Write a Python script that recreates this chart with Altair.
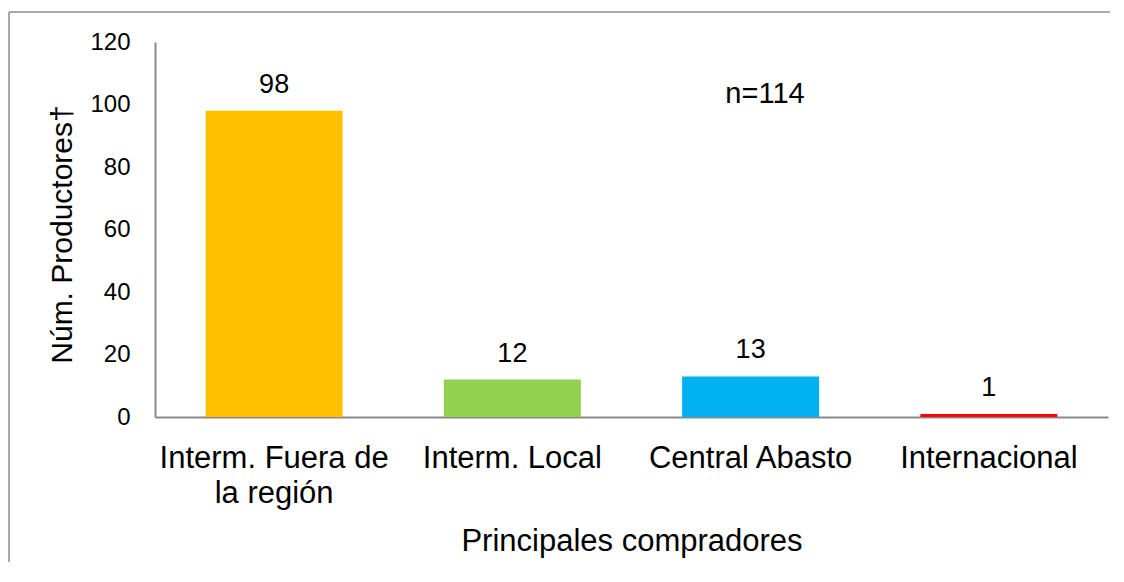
import altair as alt
import pandas as pd

categories = ["Interm. Fuera de la región", "Interm. Local", "Central Abasto", "Internacional"]
values = [98, 12, 13, 1]
colors = ["#FFC000", "#92D050", "#00B0F0", "#FF0000"]
y_ticks = [0, 20, 40, 60, 80, 100, 120]
note = "n=114"

df = pd.DataFrame({"cat": categories, "val": values})

FONT = "Liberation Sans"
W, H = 953, 375

x_enc = alt.X(
    "cat:N",
    sort=None,
    scale=alt.Scale(paddingInner=0.425, paddingOuter=0.2125),
    axis=alt.Axis(
        title="Principales compradores",
        labelAngle=0,
        labelFontSize=31,
        labelFont=FONT,
        labelColor="#000000",
        labelBaseline="alphabetic",
        labelPadding=50,
        labelLineHeight=35,
        labelLimit=0,
        labelExpr="datum.label == 'Interm. Fuera de la región' ? ['Interm. Fuera de', 'la región'] : datum.label",
        ticks=False,
        tickSize=0,
        domainColor="#8a8a8a",
        domainWidth=2,
        titleFontSize=31,
        titleFont=FONT,
        titleFontWeight="normal",
        titleColor="#000000",
        titleX=W / 2,
        titleY=133,
        titleBaseline="alphabetic",
        titleAlign="center",
    ),
)

y_enc = alt.Y(
    "val:Q",
    scale=alt.Scale(domain=[0, 120]),
    axis=alt.Axis(
        title="Núm. Productores†",
        values=y_ticks,
        grid=False,
        ticks=False,
        tickSize=0,
        labelFontSize=24,
        labelFont=FONT,
        labelColor="#000000",
        labelPadding=25,
        domainColor="#8a8a8a",
        domainWidth=2,
        titleFontSize=30,
        titleFont=FONT,
        titleFontWeight="normal",
        titleColor="#000000",
        titleAngle=-90,
        titleX=-84,
        titleY=192,
        titleAlign="center",
        titleBaseline="alphabetic",
    ),
)

bars = alt.Chart(df).mark_bar().encode(
    x=x_enc,
    y=y_enc,
    color=alt.Color("cat:N", sort=None, scale=alt.Scale(domain=categories, range=colors), legend=None),
)

labels = alt.Chart(df).mark_text(
    font=FONT, fontSize=27, color="#000000", baseline="alphabetic", dy=-18
).encode(
    x=alt.X("cat:N", sort=None),
    y=alt.Y("val:Q"),
    text=alt.Text("val:Q"),
)

note_df = pd.DataFrame({"t": [note]})
note_mark = alt.Chart(note_df).mark_text(
    font=FONT, fontSize=29, color="#000000", baseline="alphabetic", align="center"
).encode(
    x=alt.value(610),
    y=alt.value(61),
    text="t:N",
)

frame_left = alt.Chart(note_df).mark_rule(
    stroke="#8c8c8c", strokeWidth=1.5, clip=False
).encode(
    x=alt.value(-146),
    y=alt.value(-30),
    y2=alt.value(520),
)

frame_top = alt.Chart(note_df).mark_rule(
    stroke="#8c8c8c", strokeWidth=1.5, clip=False
).encode(
    x=alt.value(-146),
    x2=alt.value(955),
    y=alt.value(-30),
)

chart = alt.layer(frame_left, frame_top, bars, labels, note_mark).properties(
    width=W,
    height=H,
    background="#ffffff",
    autosize=alt.AutoSizeParams(type="none"),
    padding={"left": 147, "top": 34, "right": 8, "bottom": 157},
).configure_view(strokeWidth=0)

chart.save("out.html", embed_options={"renderer": "svg", "actions": False})
